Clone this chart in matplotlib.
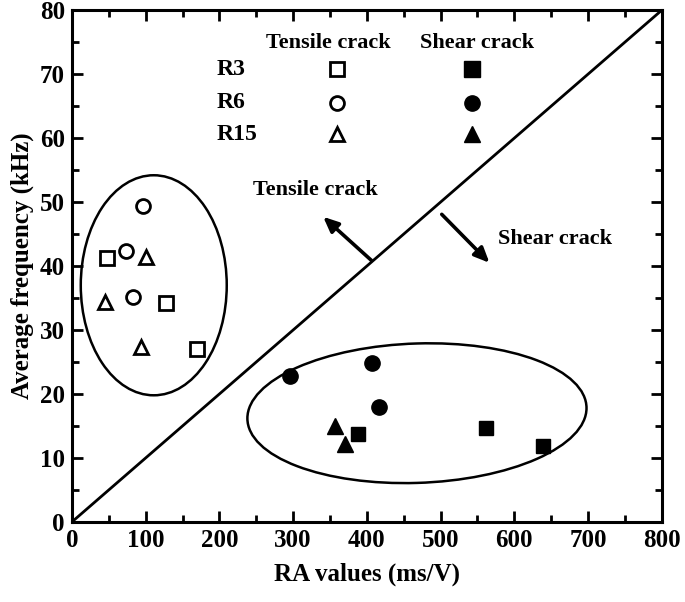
import numpy as np
import matplotlib.pyplot as plt
from matplotlib.patches import Ellipse
from matplotlib.ticker import MultipleLocator

# tensile crack (open markers)
r3_t_x = [47, 128, 170]
r3_t_y = [41.3, 34.2, 27.0]
r6_t_x = [96, 74, 83]
r6_t_y = [49.4, 42.3, 35.2]
r15_t_x = [100, 45, 94]
r15_t_y = [41.4, 34.4, 27.4]

# shear crack (filled markers)
r3_s_x = [388, 561, 639]
r3_s_y = [13.8, 14.7, 11.8]
r6_s_x = [296, 407, 417]
r6_s_y = [22.8, 24.9, 17.9]
r15_s_x = [357, 370]
r15_s_y = [15.0, 12.2]

serie_labels = ['R3', 'R6', 'R15']
marcadores = ['s', 'o', '^']

plt.rcParams['font.family'] = ['Liberation Serif', 'DejaVu Serif']
plt.rcParams['font.weight'] = 'bold'

fig = plt.figure(figsize=(6.85, 6.02), dpi=100)
ax = fig.add_axes([0.105, 0.133, 0.861, 0.850])

ms = 10
mew = 2.0
ax.plot(r3_t_x, r3_t_y, 's', ms=ms, mfc='white', mec='black', mew=mew)
ax.plot(r6_t_x, r6_t_y, 'o', ms=ms, mfc='white', mec='black', mew=mew)
ax.plot(r15_t_x, r15_t_y, '^', ms=ms, mfc='white', mec='black', mew=mew)
ax.plot(r3_s_x, r3_s_y, 's', ms=ms, color='black')
ax.plot(r6_s_x, r6_s_y, 'o', ms=ms + 1, color='black')
ax.plot(r15_s_x, r15_s_y, '^', ms=ms + 1, color='black')

# linea divisoria RA = 10 * AF
ax.plot([0, 800], [0, 80], color='black', lw=2)

ax.add_patch(Ellipse((111, 37), 198, 34.4, fill=False, ec='black', lw=1.8))
ax.add_patch(Ellipse((468, 17), 460, 21.8, angle=0.2, fill=False, ec='black', lw=1.8))

flecha = dict(arrowstyle='-|>,head_length=0.9,head_width=0.4', color='black', lw=2.6)
ax.annotate('', xy=(338, 48), xytext=(409, 40.6), arrowprops=flecha)
ax.annotate('', xy=(569, 40.2), xytext=(499, 48.4), arrowprops=flecha)
ax.text(330, 51.9, 'Tensile crack', ha='center', va='center', fontsize=16)
ax.text(656, 44.3, 'Shear crack', ha='center', va='center', fontsize=16)

# leyenda manual
ax.text(348, 74.8, 'Tensile crack', ha='center', va='center', fontsize=16)
ax.text(550, 74.8, 'Shear crack', ha='center', va='center', fontsize=16)
filas_y = [70.8, 65.5, 60.6]
for lab, m, yy in zip(serie_labels, marcadores, filas_y):
    ax.text(196, yy, lab, ha='left', va='center', fontsize=17)
    ax.plot([359], [yy], m, ms=ms, mfc='white', mec='black', mew=mew)
    ax.plot([542], [yy], m, ms=ms + 1, color='black')

ax.set_xlim(0, 800)
ax.set_ylim(0, 80)
ax.xaxis.set_major_locator(MultipleLocator(100))
ax.xaxis.set_minor_locator(MultipleLocator(50))
ax.yaxis.set_major_locator(MultipleLocator(10))
ax.yaxis.set_minor_locator(MultipleLocator(5))
ax.tick_params(which='both', direction='in', top=True, right=True, width=2,
               labelsize=18, pad=5)
ax.tick_params(which='major', length=8)
ax.tick_params(which='minor', length=5)
for s in ax.spines.values():
    s.set_linewidth(2.2)

ax.set_xlabel('RA values (ms/V)', fontsize=18, fontweight='bold', labelpad=8)
ax.set_ylabel('Average frequency (kHz)', fontsize=18, fontweight='bold', labelpad=4)

fig.savefig('out.png', dpi=100)
